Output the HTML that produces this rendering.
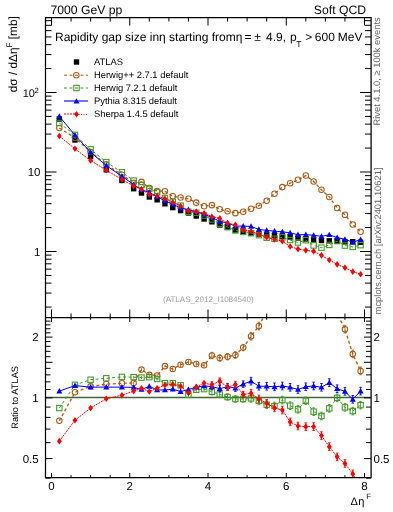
<!DOCTYPE html>
<html><head><meta charset="utf-8"><style>html,body{text-rendering:geometricPrecision;margin:0;padding:0;width:393px;height:512px;overflow:hidden;background:#fff}</style></head>
<body>
<svg width="393" height="512" viewBox="0 0 393 512" style="position:absolute;left:0;top:0;will-change:transform">
<rect width="393" height="512" fill="#fff"/>
<defs><clipPath id="cm"><rect x="45.5" y="17.5" width="325.6" height="300"/></clipPath><clipPath id="cr"><rect x="45.5" y="317.5" width="325.6" height="160"/></clipPath></defs>
<g clip-path="url(#cm)">
<polyline points="59.33,119.00 74.97,140.00 90.62,156.50 106.28,169.80 121.92,180.50 133.66,188.70 141.49,193.00 149.31,197.00 157.14,199.80 164.96,203.80 172.79,207.60 180.61,210.60 188.44,213.00 196.26,216.00 204.09,219.00 211.91,221.80 219.74,225.00 227.56,227.40 235.39,230.00 243.21,231.50 251.04,233.00 258.86,234.00 266.69,235.00 274.51,235.50 282.34,236.50 290.16,237.00 297.99,238.00 305.81,239.00 313.64,240.00 321.46,240.50 329.29,240.80 337.11,241.10 344.94,241.80 352.76,241.70 360.59,242.30" fill="none" stroke="#000" stroke-width="0"/>
<rect x="56.62" y="116.30" width="5.4" height="5.4" fill="#000"/>
<rect x="72.27" y="137.30" width="5.4" height="5.4" fill="#000"/>
<rect x="87.92" y="153.80" width="5.4" height="5.4" fill="#000"/>
<rect x="103.58" y="167.10" width="5.4" height="5.4" fill="#000"/>
<rect x="119.22" y="177.80" width="5.4" height="5.4" fill="#000"/>
<rect x="130.96" y="186.00" width="5.4" height="5.4" fill="#000"/>
<rect x="138.79" y="190.30" width="5.4" height="5.4" fill="#000"/>
<rect x="146.61" y="194.30" width="5.4" height="5.4" fill="#000"/>
<rect x="154.44" y="197.10" width="5.4" height="5.4" fill="#000"/>
<rect x="162.26" y="201.10" width="5.4" height="5.4" fill="#000"/>
<rect x="170.09" y="204.90" width="5.4" height="5.4" fill="#000"/>
<rect x="177.91" y="207.90" width="5.4" height="5.4" fill="#000"/>
<rect x="185.74" y="210.30" width="5.4" height="5.4" fill="#000"/>
<rect x="193.56" y="213.30" width="5.4" height="5.4" fill="#000"/>
<rect x="201.39" y="216.30" width="5.4" height="5.4" fill="#000"/>
<rect x="209.21" y="219.10" width="5.4" height="5.4" fill="#000"/>
<rect x="217.04" y="222.30" width="5.4" height="5.4" fill="#000"/>
<rect x="224.86" y="224.70" width="5.4" height="5.4" fill="#000"/>
<rect x="232.69" y="227.30" width="5.4" height="5.4" fill="#000"/>
<rect x="240.51" y="228.80" width="5.4" height="5.4" fill="#000"/>
<rect x="248.34" y="230.30" width="5.4" height="5.4" fill="#000"/>
<rect x="256.16" y="231.30" width="5.4" height="5.4" fill="#000"/>
<rect x="263.99" y="232.30" width="5.4" height="5.4" fill="#000"/>
<rect x="271.81" y="232.80" width="5.4" height="5.4" fill="#000"/>
<rect x="279.64" y="233.80" width="5.4" height="5.4" fill="#000"/>
<rect x="287.46" y="234.30" width="5.4" height="5.4" fill="#000"/>
<rect x="295.29" y="235.30" width="5.4" height="5.4" fill="#000"/>
<rect x="303.11" y="236.30" width="5.4" height="5.4" fill="#000"/>
<rect x="310.94" y="237.30" width="5.4" height="5.4" fill="#000"/>
<rect x="318.76" y="237.80" width="5.4" height="5.4" fill="#000"/>
<rect x="326.59" y="238.10" width="5.4" height="5.4" fill="#000"/>
<rect x="334.41" y="238.40" width="5.4" height="5.4" fill="#000"/>
<rect x="342.24" y="239.10" width="5.4" height="5.4" fill="#000"/>
<rect x="350.06" y="239.00" width="5.4" height="5.4" fill="#000"/>
<rect x="357.89" y="239.60" width="5.4" height="5.4" fill="#000"/>
<polyline points="59.33,128.02 74.97,137.83 90.62,151.98 106.28,164.38 121.92,174.79 133.66,182.84 141.49,181.88 149.31,187.94 157.14,191.01 164.96,191.31 172.79,196.23 180.61,197.58 188.44,198.84 196.26,202.63 204.09,206.17 211.91,205.14 219.74,209.29 227.56,211.17 235.39,213.13 243.21,211.69 251.04,208.72 258.86,205.70 266.69,200.70 274.51,193.70 282.34,187.10 290.16,183.20 297.99,179.80 305.81,175.50 313.64,181.50 321.46,189.80 329.29,197.00 337.11,208.00 344.94,214.73 352.76,224.41 360.59,231.68" fill="none" stroke="#a95a16" stroke-width="1.3" stroke-dasharray="3,2.5"/>
<circle cx="59.33" cy="128.02" r="2.75" fill="none" stroke="#a95a16" stroke-width="1.05"/>
<circle cx="74.97" cy="137.83" r="2.75" fill="none" stroke="#a95a16" stroke-width="1.05"/>
<circle cx="90.62" cy="151.98" r="2.75" fill="none" stroke="#a95a16" stroke-width="1.05"/>
<circle cx="106.28" cy="164.38" r="2.75" fill="none" stroke="#a95a16" stroke-width="1.05"/>
<circle cx="121.92" cy="174.79" r="2.75" fill="none" stroke="#a95a16" stroke-width="1.05"/>
<circle cx="133.66" cy="182.84" r="2.75" fill="none" stroke="#a95a16" stroke-width="1.05"/>
<circle cx="141.49" cy="181.88" r="2.75" fill="none" stroke="#a95a16" stroke-width="1.05"/>
<circle cx="149.31" cy="187.94" r="2.75" fill="none" stroke="#a95a16" stroke-width="1.05"/>
<circle cx="157.14" cy="191.01" r="2.75" fill="none" stroke="#a95a16" stroke-width="1.05"/>
<circle cx="164.96" cy="191.31" r="2.75" fill="none" stroke="#a95a16" stroke-width="1.05"/>
<circle cx="172.79" cy="196.23" r="2.75" fill="none" stroke="#a95a16" stroke-width="1.05"/>
<circle cx="180.61" cy="197.58" r="2.75" fill="none" stroke="#a95a16" stroke-width="1.05"/>
<circle cx="188.44" cy="198.84" r="2.75" fill="none" stroke="#a95a16" stroke-width="1.05"/>
<circle cx="196.26" cy="202.63" r="2.75" fill="none" stroke="#a95a16" stroke-width="1.05"/>
<circle cx="204.09" cy="206.17" r="2.75" fill="none" stroke="#a95a16" stroke-width="1.05"/>
<circle cx="211.91" cy="205.14" r="2.75" fill="none" stroke="#a95a16" stroke-width="1.05"/>
<circle cx="219.74" cy="209.29" r="2.75" fill="none" stroke="#a95a16" stroke-width="1.05"/>
<circle cx="227.56" cy="211.17" r="2.75" fill="none" stroke="#a95a16" stroke-width="1.05"/>
<circle cx="235.39" cy="213.13" r="2.75" fill="none" stroke="#a95a16" stroke-width="1.05"/>
<circle cx="243.21" cy="211.69" r="2.75" fill="none" stroke="#a95a16" stroke-width="1.05"/>
<circle cx="251.04" cy="208.72" r="2.75" fill="none" stroke="#a95a16" stroke-width="1.05"/>
<circle cx="258.86" cy="205.70" r="2.75" fill="none" stroke="#a95a16" stroke-width="1.05"/>
<circle cx="266.69" cy="200.70" r="2.75" fill="none" stroke="#a95a16" stroke-width="1.05"/>
<circle cx="274.51" cy="193.70" r="2.75" fill="none" stroke="#a95a16" stroke-width="1.05"/>
<circle cx="282.34" cy="187.10" r="2.75" fill="none" stroke="#a95a16" stroke-width="1.05"/>
<circle cx="290.16" cy="183.20" r="2.75" fill="none" stroke="#a95a16" stroke-width="1.05"/>
<circle cx="297.99" cy="179.80" r="2.75" fill="none" stroke="#a95a16" stroke-width="1.05"/>
<circle cx="305.81" cy="175.50" r="2.75" fill="none" stroke="#a95a16" stroke-width="1.05"/>
<circle cx="313.64" cy="181.50" r="2.75" fill="none" stroke="#a95a16" stroke-width="1.05"/>
<circle cx="321.46" cy="189.80" r="2.75" fill="none" stroke="#a95a16" stroke-width="1.05"/>
<circle cx="329.29" cy="197.00" r="2.75" fill="none" stroke="#a95a16" stroke-width="1.05"/>
<circle cx="337.11" cy="208.00" r="2.75" fill="none" stroke="#a95a16" stroke-width="1.05"/>
<circle cx="344.94" cy="214.73" r="2.75" fill="none" stroke="#a95a16" stroke-width="1.05"/>
<circle cx="352.76" cy="224.41" r="2.75" fill="none" stroke="#a95a16" stroke-width="1.05"/>
<circle cx="360.59" cy="231.68" r="2.75" fill="none" stroke="#a95a16" stroke-width="1.05"/>
<polyline points="59.33,123.02 74.97,134.88 90.62,149.35 106.28,162.10 121.92,172.25 133.66,180.56 141.49,185.02 149.31,188.86 157.14,192.37 164.96,198.00 172.79,201.80 180.61,205.65 188.44,211.81 196.26,212.80 204.09,215.55 211.91,219.40 219.74,223.65 227.56,227.06 235.39,230.45 243.21,231.95 251.04,233.21 258.86,235.19 266.69,237.69 274.51,238.72 282.34,237.37 290.16,240.07 297.99,242.53 305.81,240.16 313.64,245.45 321.46,247.65 329.29,244.94 337.11,241.10 344.94,245.55 352.76,246.91 360.59,245.18" fill="none" stroke="#3f9826" stroke-width="1.0" stroke-dasharray="3,2.5"/>
<rect x="56.62" y="120.32" width="5.4" height="5.4" fill="none" stroke="#3f9826" stroke-width="1.05"/>
<rect x="72.27" y="132.18" width="5.4" height="5.4" fill="none" stroke="#3f9826" stroke-width="1.05"/>
<rect x="87.92" y="146.65" width="5.4" height="5.4" fill="none" stroke="#3f9826" stroke-width="1.05"/>
<rect x="103.58" y="159.40" width="5.4" height="5.4" fill="none" stroke="#3f9826" stroke-width="1.05"/>
<rect x="119.22" y="169.55" width="5.4" height="5.4" fill="none" stroke="#3f9826" stroke-width="1.05"/>
<rect x="130.96" y="177.86" width="5.4" height="5.4" fill="none" stroke="#3f9826" stroke-width="1.05"/>
<rect x="138.79" y="182.32" width="5.4" height="5.4" fill="none" stroke="#3f9826" stroke-width="1.05"/>
<rect x="146.61" y="186.16" width="5.4" height="5.4" fill="none" stroke="#3f9826" stroke-width="1.05"/>
<rect x="154.44" y="189.67" width="5.4" height="5.4" fill="none" stroke="#3f9826" stroke-width="1.05"/>
<rect x="162.26" y="195.30" width="5.4" height="5.4" fill="none" stroke="#3f9826" stroke-width="1.05"/>
<rect x="170.09" y="199.10" width="5.4" height="5.4" fill="none" stroke="#3f9826" stroke-width="1.05"/>
<rect x="177.91" y="202.95" width="5.4" height="5.4" fill="none" stroke="#3f9826" stroke-width="1.05"/>
<rect x="185.74" y="209.11" width="5.4" height="5.4" fill="none" stroke="#3f9826" stroke-width="1.05"/>
<rect x="193.56" y="210.10" width="5.4" height="5.4" fill="none" stroke="#3f9826" stroke-width="1.05"/>
<rect x="201.39" y="212.85" width="5.4" height="5.4" fill="none" stroke="#3f9826" stroke-width="1.05"/>
<rect x="209.21" y="216.70" width="5.4" height="5.4" fill="none" stroke="#3f9826" stroke-width="1.05"/>
<rect x="217.04" y="220.95" width="5.4" height="5.4" fill="none" stroke="#3f9826" stroke-width="1.05"/>
<rect x="224.86" y="224.36" width="5.4" height="5.4" fill="none" stroke="#3f9826" stroke-width="1.05"/>
<rect x="232.69" y="227.75" width="5.4" height="5.4" fill="none" stroke="#3f9826" stroke-width="1.05"/>
<rect x="240.51" y="229.25" width="5.4" height="5.4" fill="none" stroke="#3f9826" stroke-width="1.05"/>
<rect x="248.34" y="230.51" width="5.4" height="5.4" fill="none" stroke="#3f9826" stroke-width="1.05"/>
<rect x="256.16" y="232.49" width="5.4" height="5.4" fill="none" stroke="#3f9826" stroke-width="1.05"/>
<rect x="263.99" y="234.99" width="5.4" height="5.4" fill="none" stroke="#3f9826" stroke-width="1.05"/>
<rect x="271.81" y="236.02" width="5.4" height="5.4" fill="none" stroke="#3f9826" stroke-width="1.05"/>
<rect x="279.64" y="234.67" width="5.4" height="5.4" fill="none" stroke="#3f9826" stroke-width="1.05"/>
<rect x="287.46" y="237.37" width="5.4" height="5.4" fill="none" stroke="#3f9826" stroke-width="1.05"/>
<rect x="295.29" y="239.83" width="5.4" height="5.4" fill="none" stroke="#3f9826" stroke-width="1.05"/>
<rect x="303.11" y="237.46" width="5.4" height="5.4" fill="none" stroke="#3f9826" stroke-width="1.05"/>
<rect x="310.94" y="242.75" width="5.4" height="5.4" fill="none" stroke="#3f9826" stroke-width="1.05"/>
<rect x="318.76" y="244.95" width="5.4" height="5.4" fill="none" stroke="#3f9826" stroke-width="1.05"/>
<rect x="326.59" y="242.24" width="5.4" height="5.4" fill="none" stroke="#3f9826" stroke-width="1.05"/>
<rect x="334.41" y="238.40" width="5.4" height="5.4" fill="none" stroke="#3f9826" stroke-width="1.05"/>
<rect x="342.24" y="242.85" width="5.4" height="5.4" fill="none" stroke="#3f9826" stroke-width="1.05"/>
<rect x="350.06" y="244.21" width="5.4" height="5.4" fill="none" stroke="#3f9826" stroke-width="1.05"/>
<rect x="357.89" y="242.48" width="5.4" height="5.4" fill="none" stroke="#3f9826" stroke-width="1.05"/>
<polyline points="59.33,116.34 74.97,135.17 90.62,152.28 106.28,165.58 121.92,176.28 133.66,184.57 141.49,189.71 149.31,192.48 157.14,196.67 164.96,200.73 172.79,204.15 180.61,208.14 188.44,209.71 196.26,211.81 204.09,214.29 211.91,217.37 219.74,221.40 227.56,222.97 235.39,226.18 243.21,226.08 251.04,226.42 258.86,229.42 266.69,230.42 274.51,231.16 282.34,231.82 290.16,232.84 297.99,234.71 305.81,234.63 313.64,235.32 321.46,236.34 329.29,234.79 337.11,237.50 344.94,239.24 352.76,242.29 360.59,239.64" fill="none" stroke="#0000ff" stroke-width="1.0"/>
<path d="M59.33 113.24L62.33 118.64L56.33 118.64Z" fill="#0000ff"/>
<path d="M74.97 132.07L77.97 137.47L71.97 137.47Z" fill="#0000ff"/>
<path d="M90.62 149.18L93.62 154.58L87.62 154.58Z" fill="#0000ff"/>
<path d="M106.28 162.48L109.28 167.88L103.28 167.88Z" fill="#0000ff"/>
<path d="M121.92 173.18L124.92 178.58L118.92 178.58Z" fill="#0000ff"/>
<path d="M133.66 181.47L136.66 186.87L130.66 186.87Z" fill="#0000ff"/>
<path d="M141.49 186.61L144.49 192.01L138.49 192.01Z" fill="#0000ff"/>
<path d="M149.31 189.38L152.31 194.78L146.31 194.78Z" fill="#0000ff"/>
<path d="M157.14 193.57L160.14 198.97L154.14 198.97Z" fill="#0000ff"/>
<path d="M164.96 197.63L167.96 203.03L161.96 203.03Z" fill="#0000ff"/>
<path d="M172.79 201.05L175.79 206.45L169.79 206.45Z" fill="#0000ff"/>
<path d="M180.61 205.04L183.61 210.44L177.61 210.44Z" fill="#0000ff"/>
<path d="M188.44 206.61L191.44 212.01L185.44 212.01Z" fill="#0000ff"/>
<path d="M196.26 208.71L199.26 214.11L193.26 214.11Z" fill="#0000ff"/>
<path d="M204.09 211.19L207.09 216.59L201.09 216.59Z" fill="#0000ff"/>
<path d="M211.91 214.27L214.91 219.67L208.91 219.67Z" fill="#0000ff"/>
<path d="M219.74 218.30L222.74 223.70L216.74 223.70Z" fill="#0000ff"/>
<path d="M227.56 219.87L230.56 225.27L224.56 225.27Z" fill="#0000ff"/>
<path d="M235.39 223.08L238.39 228.48L232.39 228.48Z" fill="#0000ff"/>
<path d="M243.21 222.98L246.21 228.38L240.21 228.38Z" fill="#0000ff"/>
<path d="M251.04 223.32L254.04 228.72L248.04 228.72Z" fill="#0000ff"/>
<path d="M258.86 226.32L261.86 231.72L255.86 231.72Z" fill="#0000ff"/>
<path d="M266.69 227.32L269.69 232.72L263.69 232.72Z" fill="#0000ff"/>
<path d="M274.51 228.06L277.51 233.46L271.51 233.46Z" fill="#0000ff"/>
<path d="M282.34 228.72L285.34 234.12L279.34 234.12Z" fill="#0000ff"/>
<path d="M290.16 229.74L293.16 235.14L287.16 235.14Z" fill="#0000ff"/>
<path d="M297.99 231.61L300.99 237.01L294.99 237.01Z" fill="#0000ff"/>
<path d="M305.81 231.53L308.81 236.93L302.81 236.93Z" fill="#0000ff"/>
<path d="M313.64 232.22L316.64 237.62L310.64 237.62Z" fill="#0000ff"/>
<path d="M321.46 233.24L324.46 238.64L318.46 238.64Z" fill="#0000ff"/>
<path d="M329.29 231.69L332.29 237.09L326.29 237.09Z" fill="#0000ff"/>
<path d="M337.11 234.40L340.11 239.80L334.11 239.80Z" fill="#0000ff"/>
<path d="M344.94 236.14L347.94 241.54L341.94 241.54Z" fill="#0000ff"/>
<path d="M352.76 239.19L355.76 244.59L349.76 244.59Z" fill="#0000ff"/>
<path d="M360.59 236.54L363.59 241.94L357.59 241.94Z" fill="#0000ff"/>
<polyline points="59.33,136.07 74.97,148.80 90.62,160.52 106.28,170.15 121.92,179.48 133.66,186.04 141.49,189.24 149.31,194.47 157.14,196.04 164.96,198.71 172.79,202.30 180.61,206.02 188.44,211.05 196.26,211.69 204.09,213.20 211.91,216.68 219.74,218.42 227.56,223.27 235.39,224.73 243.21,230.21 251.04,231.18 258.86,234.45 266.69,237.17 274.51,239.45 282.34,241.31 290.16,246.48 297.99,249.10 305.81,250.34 313.64,251.34 321.46,255.37 329.29,260.03 337.11,264.35 344.94,267.65 352.76,271.65 360.59,274.28" fill="none" stroke="#ff0000" stroke-width="1.0" stroke-dasharray="2,0.9"/>
<path d="M59.33 132.77L61.73 136.07L59.33 139.37L56.93 136.07Z" fill="#ff0000"/>
<path d="M74.97 145.50L77.38 148.80L74.97 152.10L72.57 148.80Z" fill="#ff0000"/>
<path d="M90.62 157.22L93.03 160.52L90.62 163.82L88.22 160.52Z" fill="#ff0000"/>
<path d="M106.28 166.85L108.68 170.15L106.28 173.45L103.88 170.15Z" fill="#ff0000"/>
<path d="M121.92 176.18L124.33 179.48L121.92 182.78L119.52 179.48Z" fill="#ff0000"/>
<path d="M133.66 182.74L136.06 186.04L133.66 189.34L131.26 186.04Z" fill="#ff0000"/>
<path d="M141.49 185.94L143.89 189.24L141.49 192.54L139.09 189.24Z" fill="#ff0000"/>
<path d="M149.31 191.17L151.71 194.47L149.31 197.77L146.91 194.47Z" fill="#ff0000"/>
<path d="M157.14 192.74L159.54 196.04L157.14 199.34L154.74 196.04Z" fill="#ff0000"/>
<path d="M164.96 195.41L167.36 198.71L164.96 202.01L162.56 198.71Z" fill="#ff0000"/>
<path d="M172.79 199.00L175.19 202.30L172.79 205.60L170.39 202.30Z" fill="#ff0000"/>
<path d="M180.61 202.72L183.01 206.02L180.61 209.32L178.21 206.02Z" fill="#ff0000"/>
<path d="M188.44 207.75L190.84 211.05L188.44 214.35L186.04 211.05Z" fill="#ff0000"/>
<path d="M196.26 208.39L198.66 211.69L196.26 214.99L193.86 211.69Z" fill="#ff0000"/>
<path d="M204.09 209.90L206.49 213.20L204.09 216.50L201.69 213.20Z" fill="#ff0000"/>
<path d="M211.91 213.38L214.31 216.68L211.91 219.98L209.51 216.68Z" fill="#ff0000"/>
<path d="M219.74 215.12L222.14 218.42L219.74 221.72L217.34 218.42Z" fill="#ff0000"/>
<path d="M227.56 219.97L229.96 223.27L227.56 226.57L225.16 223.27Z" fill="#ff0000"/>
<path d="M235.39 221.43L237.79 224.73L235.39 228.03L232.99 224.73Z" fill="#ff0000"/>
<path d="M243.21 226.91L245.61 230.21L243.21 233.51L240.81 230.21Z" fill="#ff0000"/>
<path d="M251.04 227.88L253.44 231.18L251.04 234.48L248.64 231.18Z" fill="#ff0000"/>
<path d="M258.86 231.15L261.26 234.45L258.86 237.75L256.46 234.45Z" fill="#ff0000"/>
<path d="M266.69 233.87L269.09 237.17L266.69 240.47L264.29 237.17Z" fill="#ff0000"/>
<path d="M274.51 236.15L276.91 239.45L274.51 242.75L272.11 239.45Z" fill="#ff0000"/>
<path d="M282.34 238.01L284.74 241.31L282.34 244.61L279.94 241.31Z" fill="#ff0000"/>
<path d="M290.16 243.18L292.56 246.48L290.16 249.78L287.76 246.48Z" fill="#ff0000"/>
<path d="M297.99 245.80L300.39 249.10L297.99 252.40L295.59 249.10Z" fill="#ff0000"/>
<path d="M305.81 247.04L308.21 250.34L305.81 253.64L303.41 250.34Z" fill="#ff0000"/>
<path d="M313.64 248.04L316.04 251.34L313.64 254.64L311.24 251.34Z" fill="#ff0000"/>
<path d="M321.46 252.07L323.86 255.37L321.46 258.67L319.06 255.37Z" fill="#ff0000"/>
<path d="M329.29 256.73L331.69 260.03L329.29 263.33L326.89 260.03Z" fill="#ff0000"/>
<path d="M337.11 261.05L339.51 264.35L337.11 267.65L334.71 264.35Z" fill="#ff0000"/>
<path d="M344.94 264.35L347.34 267.65L344.94 270.95L342.54 267.65Z" fill="#ff0000"/>
<path d="M352.76 268.35L355.16 271.65L352.76 274.95L350.36 271.65Z" fill="#ff0000"/>
<path d="M360.59 270.98L362.99 274.28L360.59 277.58L358.19 274.28Z" fill="#ff0000"/>
</g>
<g clip-path="url(#cr)">
<path d="M45.5 397.5H371" stroke="#42643a" stroke-width="1.3"/>
<polyline points="59.33,420.76 74.97,392.33 90.62,386.37 106.28,384.09 121.92,383.34 133.66,382.97 141.49,369.62 149.31,374.86 157.14,375.53 164.96,366.14 172.79,368.99 180.61,364.80 188.44,361.91 196.26,363.91 204.09,365.29 211.91,355.57 219.74,357.98 227.56,356.66 235.39,355.03 243.21,347.56 251.04,336.23 258.86,326.00 266.69,310.78 274.51,291.75 282.34,272.45 290.16,261.29 297.99,250.12 305.81,236.66 313.64,249.36 321.46,269.15 329.29,286.67 337.11,313.83 344.94,329.15 352.76,353.96 360.59,370.90" fill="none" stroke="#a95a16" stroke-width="1.3" stroke-dasharray="3,2.5"/>
<path d="M133.66 381.57V384.37" stroke="#a95a16" stroke-width="0.9" fill="none"/>
<path d="M141.49 368.22V371.02" stroke="#a95a16" stroke-width="0.9" fill="none"/>
<path d="M149.31 373.46V376.26" stroke="#a95a16" stroke-width="0.9" fill="none"/>
<path d="M157.14 374.13V376.93" stroke="#a95a16" stroke-width="0.9" fill="none"/>
<path d="M164.96 364.74V367.54" stroke="#a95a16" stroke-width="0.9" fill="none"/>
<path d="M172.79 366.79V371.19" stroke="#a95a16" stroke-width="0.9" fill="none"/>
<path d="M180.61 362.60V367.00" stroke="#a95a16" stroke-width="0.9" fill="none"/>
<path d="M188.44 359.71V364.11" stroke="#a95a16" stroke-width="0.9" fill="none"/>
<path d="M196.26 361.71V366.11" stroke="#a95a16" stroke-width="0.9" fill="none"/>
<path d="M204.09 363.09V367.49" stroke="#a95a16" stroke-width="0.9" fill="none"/>
<path d="M211.91 352.37V358.77M210.61 352.37H213.21M210.61 358.77H213.21" stroke="#a95a16" stroke-width="0.9" fill="none"/>
<path d="M219.74 354.78V361.18M218.44 354.78H221.04M218.44 361.18H221.04" stroke="#a95a16" stroke-width="0.9" fill="none"/>
<path d="M227.56 353.46V359.86M226.26 353.46H228.86M226.26 359.86H228.86" stroke="#a95a16" stroke-width="0.9" fill="none"/>
<path d="M235.39 351.83V358.23M234.09 351.83H236.69M234.09 358.23H236.69" stroke="#a95a16" stroke-width="0.9" fill="none"/>
<path d="M243.21 344.36V350.76M241.91 344.36H244.51M241.91 350.76H244.51" stroke="#a95a16" stroke-width="0.9" fill="none"/>
<path d="M251.04 332.43V340.03M249.74 332.43H252.34M249.74 340.03H252.34" stroke="#a95a16" stroke-width="0.9" fill="none"/>
<path d="M258.86 322.20V329.80M257.56 322.20H260.16M257.56 329.80H260.16" stroke="#a95a16" stroke-width="0.9" fill="none"/>
<path d="M266.69 306.98V314.58M265.39 306.98H267.99M265.39 314.58H267.99" stroke="#a95a16" stroke-width="0.9" fill="none"/>
<path d="M274.51 287.95V295.55M273.21 287.95H275.81M273.21 295.55H275.81" stroke="#a95a16" stroke-width="0.9" fill="none"/>
<path d="M282.34 268.65V276.25M281.04 268.65H283.64M281.04 276.25H283.64" stroke="#a95a16" stroke-width="0.9" fill="none"/>
<path d="M290.16 257.49V265.09M288.86 257.49H291.46M288.86 265.09H291.46" stroke="#a95a16" stroke-width="0.9" fill="none"/>
<path d="M297.99 246.32V253.92M296.69 246.32H299.29M296.69 253.92H299.29" stroke="#a95a16" stroke-width="0.9" fill="none"/>
<path d="M305.81 232.86V240.46M304.51 232.86H307.11M304.51 240.46H307.11" stroke="#a95a16" stroke-width="0.9" fill="none"/>
<path d="M313.64 245.56V253.16M312.34 245.56H314.94M312.34 253.16H314.94" stroke="#a95a16" stroke-width="0.9" fill="none"/>
<path d="M321.46 265.35V272.95M320.16 265.35H322.76M320.16 272.95H322.76" stroke="#a95a16" stroke-width="0.9" fill="none"/>
<path d="M329.29 282.87V290.47M327.99 282.87H330.59M327.99 290.47H330.59" stroke="#a95a16" stroke-width="0.9" fill="none"/>
<path d="M337.11 310.03V317.63M335.81 310.03H338.41M335.81 317.63H338.41" stroke="#a95a16" stroke-width="0.9" fill="none"/>
<path d="M344.94 325.35V332.95M343.64 325.35H346.24M343.64 332.95H346.24" stroke="#a95a16" stroke-width="0.9" fill="none"/>
<path d="M352.76 350.16V357.76M351.46 350.16H354.06M351.46 357.76H354.06" stroke="#a95a16" stroke-width="0.9" fill="none"/>
<path d="M360.59 367.10V374.70M359.29 367.10H361.89M359.29 374.70H361.89" stroke="#a95a16" stroke-width="0.9" fill="none"/>
<circle cx="59.33" cy="420.76" r="2.75" fill="none" stroke="#a95a16" stroke-width="1.05"/>
<circle cx="74.97" cy="392.33" r="2.75" fill="none" stroke="#a95a16" stroke-width="1.05"/>
<circle cx="90.62" cy="386.37" r="2.75" fill="none" stroke="#a95a16" stroke-width="1.05"/>
<circle cx="106.28" cy="384.09" r="2.75" fill="none" stroke="#a95a16" stroke-width="1.05"/>
<circle cx="121.92" cy="383.34" r="2.75" fill="none" stroke="#a95a16" stroke-width="1.05"/>
<circle cx="133.66" cy="382.97" r="2.75" fill="none" stroke="#a95a16" stroke-width="1.05"/>
<circle cx="141.49" cy="369.62" r="2.75" fill="none" stroke="#a95a16" stroke-width="1.05"/>
<circle cx="149.31" cy="374.86" r="2.75" fill="none" stroke="#a95a16" stroke-width="1.05"/>
<circle cx="157.14" cy="375.53" r="2.75" fill="none" stroke="#a95a16" stroke-width="1.05"/>
<circle cx="164.96" cy="366.14" r="2.75" fill="none" stroke="#a95a16" stroke-width="1.05"/>
<circle cx="172.79" cy="368.99" r="2.75" fill="none" stroke="#a95a16" stroke-width="1.05"/>
<circle cx="180.61" cy="364.80" r="2.75" fill="none" stroke="#a95a16" stroke-width="1.05"/>
<circle cx="188.44" cy="361.91" r="2.75" fill="none" stroke="#a95a16" stroke-width="1.05"/>
<circle cx="196.26" cy="363.91" r="2.75" fill="none" stroke="#a95a16" stroke-width="1.05"/>
<circle cx="204.09" cy="365.29" r="2.75" fill="none" stroke="#a95a16" stroke-width="1.05"/>
<circle cx="211.91" cy="355.57" r="2.75" fill="none" stroke="#a95a16" stroke-width="1.05"/>
<circle cx="219.74" cy="357.98" r="2.75" fill="none" stroke="#a95a16" stroke-width="1.05"/>
<circle cx="227.56" cy="356.66" r="2.75" fill="none" stroke="#a95a16" stroke-width="1.05"/>
<circle cx="235.39" cy="355.03" r="2.75" fill="none" stroke="#a95a16" stroke-width="1.05"/>
<circle cx="243.21" cy="347.56" r="2.75" fill="none" stroke="#a95a16" stroke-width="1.05"/>
<circle cx="251.04" cy="336.23" r="2.75" fill="none" stroke="#a95a16" stroke-width="1.05"/>
<circle cx="258.86" cy="326.00" r="2.75" fill="none" stroke="#a95a16" stroke-width="1.05"/>
<circle cx="266.69" cy="310.78" r="2.75" fill="none" stroke="#a95a16" stroke-width="1.05"/>
<circle cx="274.51" cy="291.75" r="2.75" fill="none" stroke="#a95a16" stroke-width="1.05"/>
<circle cx="282.34" cy="272.45" r="2.75" fill="none" stroke="#a95a16" stroke-width="1.05"/>
<circle cx="290.16" cy="261.29" r="2.75" fill="none" stroke="#a95a16" stroke-width="1.05"/>
<circle cx="297.99" cy="250.12" r="2.75" fill="none" stroke="#a95a16" stroke-width="1.05"/>
<circle cx="305.81" cy="236.66" r="2.75" fill="none" stroke="#a95a16" stroke-width="1.05"/>
<circle cx="313.64" cy="249.36" r="2.75" fill="none" stroke="#a95a16" stroke-width="1.05"/>
<circle cx="321.46" cy="269.15" r="2.75" fill="none" stroke="#a95a16" stroke-width="1.05"/>
<circle cx="329.29" cy="286.67" r="2.75" fill="none" stroke="#a95a16" stroke-width="1.05"/>
<circle cx="337.11" cy="313.83" r="2.75" fill="none" stroke="#a95a16" stroke-width="1.05"/>
<circle cx="344.94" cy="329.15" r="2.75" fill="none" stroke="#a95a16" stroke-width="1.05"/>
<circle cx="352.76" cy="353.96" r="2.75" fill="none" stroke="#a95a16" stroke-width="1.05"/>
<circle cx="360.59" cy="370.90" r="2.75" fill="none" stroke="#a95a16" stroke-width="1.05"/>
<polyline points="59.33,408.06 74.97,384.84 90.62,379.71 106.28,378.29 121.92,376.90 133.66,377.18 141.49,377.60 149.31,377.18 157.14,379.00 164.96,383.12 172.79,383.12 180.61,385.30 188.44,394.84 196.26,389.74 204.09,389.10 211.91,391.76 219.74,394.41 227.56,396.98 235.39,399.00 243.21,399.00 251.04,398.38 258.86,400.88 266.69,404.68 274.51,406.02 282.34,400.07 290.16,405.64 297.99,409.35 305.81,400.79 313.64,411.68 321.46,415.99 329.29,408.36 337.11,397.85 344.94,407.38 352.76,411.07 360.59,405.16" fill="none" stroke="#3f9826" stroke-width="1.0" stroke-dasharray="3,2.5"/>
<path d="M133.66 375.78V378.58" stroke="#3f9826" stroke-width="0.9" fill="none"/>
<path d="M141.49 376.20V379.00" stroke="#3f9826" stroke-width="0.9" fill="none"/>
<path d="M149.31 375.78V378.58" stroke="#3f9826" stroke-width="0.9" fill="none"/>
<path d="M157.14 377.60V380.40" stroke="#3f9826" stroke-width="0.9" fill="none"/>
<path d="M164.96 381.72V384.52" stroke="#3f9826" stroke-width="0.9" fill="none"/>
<path d="M172.79 380.92V385.32" stroke="#3f9826" stroke-width="0.9" fill="none"/>
<path d="M180.61 383.10V387.50" stroke="#3f9826" stroke-width="0.9" fill="none"/>
<path d="M188.44 392.64V397.04" stroke="#3f9826" stroke-width="0.9" fill="none"/>
<path d="M196.26 387.54V391.94" stroke="#3f9826" stroke-width="0.9" fill="none"/>
<path d="M204.09 386.90V391.30" stroke="#3f9826" stroke-width="0.9" fill="none"/>
<path d="M211.91 388.56V394.96M210.61 388.56H213.21M210.61 394.96H213.21" stroke="#3f9826" stroke-width="0.9" fill="none"/>
<path d="M219.74 391.21V397.61M218.44 391.21H221.04M218.44 397.61H221.04" stroke="#3f9826" stroke-width="0.9" fill="none"/>
<path d="M227.56 393.78V400.18M226.26 393.78H228.86M226.26 400.18H228.86" stroke="#3f9826" stroke-width="0.9" fill="none"/>
<path d="M235.39 395.80V402.20M234.09 395.80H236.69M234.09 402.20H236.69" stroke="#3f9826" stroke-width="0.9" fill="none"/>
<path d="M243.21 395.80V402.20M241.91 395.80H244.51M241.91 402.20H244.51" stroke="#3f9826" stroke-width="0.9" fill="none"/>
<path d="M251.04 394.58V402.18M249.74 394.58H252.34M249.74 402.18H252.34" stroke="#3f9826" stroke-width="0.9" fill="none"/>
<path d="M258.86 397.08V404.68M257.56 397.08H260.16M257.56 404.68H260.16" stroke="#3f9826" stroke-width="0.9" fill="none"/>
<path d="M266.69 400.88V408.48M265.39 400.88H267.99M265.39 408.48H267.99" stroke="#3f9826" stroke-width="0.9" fill="none"/>
<path d="M274.51 402.22V409.82M273.21 402.22H275.81M273.21 409.82H275.81" stroke="#3f9826" stroke-width="0.9" fill="none"/>
<path d="M282.34 396.27V403.87M281.04 396.27H283.64M281.04 403.87H283.64" stroke="#3f9826" stroke-width="0.9" fill="none"/>
<path d="M290.16 401.84V409.44M288.86 401.84H291.46M288.86 409.44H291.46" stroke="#3f9826" stroke-width="0.9" fill="none"/>
<path d="M297.99 405.55V413.15M296.69 405.55H299.29M296.69 413.15H299.29" stroke="#3f9826" stroke-width="0.9" fill="none"/>
<path d="M305.81 396.99V404.59M304.51 396.99H307.11M304.51 404.59H307.11" stroke="#3f9826" stroke-width="0.9" fill="none"/>
<path d="M313.64 407.88V415.48M312.34 407.88H314.94M312.34 415.48H314.94" stroke="#3f9826" stroke-width="0.9" fill="none"/>
<path d="M321.46 412.19V419.79M320.16 412.19H322.76M320.16 419.79H322.76" stroke="#3f9826" stroke-width="0.9" fill="none"/>
<path d="M329.29 404.56V412.16M327.99 404.56H330.59M327.99 412.16H330.59" stroke="#3f9826" stroke-width="0.9" fill="none"/>
<path d="M337.11 394.05V401.65M335.81 394.05H338.41M335.81 401.65H338.41" stroke="#3f9826" stroke-width="0.9" fill="none"/>
<path d="M344.94 403.58V411.18M343.64 403.58H346.24M343.64 411.18H346.24" stroke="#3f9826" stroke-width="0.9" fill="none"/>
<path d="M352.76 407.27V414.87M351.46 407.27H354.06M351.46 414.87H354.06" stroke="#3f9826" stroke-width="0.9" fill="none"/>
<path d="M360.59 401.36V408.96M359.29 401.36H361.89M359.29 408.96H361.89" stroke="#3f9826" stroke-width="0.9" fill="none"/>
<rect x="56.62" y="405.36" width="5.4" height="5.4" fill="none" stroke="#3f9826" stroke-width="1.05"/>
<rect x="72.27" y="382.14" width="5.4" height="5.4" fill="none" stroke="#3f9826" stroke-width="1.05"/>
<rect x="87.92" y="377.01" width="5.4" height="5.4" fill="none" stroke="#3f9826" stroke-width="1.05"/>
<rect x="103.58" y="375.59" width="5.4" height="5.4" fill="none" stroke="#3f9826" stroke-width="1.05"/>
<rect x="119.22" y="374.20" width="5.4" height="5.4" fill="none" stroke="#3f9826" stroke-width="1.05"/>
<rect x="130.96" y="374.48" width="5.4" height="5.4" fill="none" stroke="#3f9826" stroke-width="1.05"/>
<rect x="138.79" y="374.90" width="5.4" height="5.4" fill="none" stroke="#3f9826" stroke-width="1.05"/>
<rect x="146.61" y="374.48" width="5.4" height="5.4" fill="none" stroke="#3f9826" stroke-width="1.05"/>
<rect x="154.44" y="376.30" width="5.4" height="5.4" fill="none" stroke="#3f9826" stroke-width="1.05"/>
<rect x="162.26" y="380.42" width="5.4" height="5.4" fill="none" stroke="#3f9826" stroke-width="1.05"/>
<rect x="170.09" y="380.42" width="5.4" height="5.4" fill="none" stroke="#3f9826" stroke-width="1.05"/>
<rect x="177.91" y="382.60" width="5.4" height="5.4" fill="none" stroke="#3f9826" stroke-width="1.05"/>
<rect x="185.74" y="392.14" width="5.4" height="5.4" fill="none" stroke="#3f9826" stroke-width="1.05"/>
<rect x="193.56" y="387.04" width="5.4" height="5.4" fill="none" stroke="#3f9826" stroke-width="1.05"/>
<rect x="201.39" y="386.40" width="5.4" height="5.4" fill="none" stroke="#3f9826" stroke-width="1.05"/>
<rect x="209.21" y="389.06" width="5.4" height="5.4" fill="none" stroke="#3f9826" stroke-width="1.05"/>
<rect x="217.04" y="391.71" width="5.4" height="5.4" fill="none" stroke="#3f9826" stroke-width="1.05"/>
<rect x="224.86" y="394.28" width="5.4" height="5.4" fill="none" stroke="#3f9826" stroke-width="1.05"/>
<rect x="232.69" y="396.30" width="5.4" height="5.4" fill="none" stroke="#3f9826" stroke-width="1.05"/>
<rect x="240.51" y="396.30" width="5.4" height="5.4" fill="none" stroke="#3f9826" stroke-width="1.05"/>
<rect x="248.34" y="395.68" width="5.4" height="5.4" fill="none" stroke="#3f9826" stroke-width="1.05"/>
<rect x="256.16" y="398.18" width="5.4" height="5.4" fill="none" stroke="#3f9826" stroke-width="1.05"/>
<rect x="263.99" y="401.98" width="5.4" height="5.4" fill="none" stroke="#3f9826" stroke-width="1.05"/>
<rect x="271.81" y="403.32" width="5.4" height="5.4" fill="none" stroke="#3f9826" stroke-width="1.05"/>
<rect x="279.64" y="397.37" width="5.4" height="5.4" fill="none" stroke="#3f9826" stroke-width="1.05"/>
<rect x="287.46" y="402.94" width="5.4" height="5.4" fill="none" stroke="#3f9826" stroke-width="1.05"/>
<rect x="295.29" y="406.65" width="5.4" height="5.4" fill="none" stroke="#3f9826" stroke-width="1.05"/>
<rect x="303.11" y="398.09" width="5.4" height="5.4" fill="none" stroke="#3f9826" stroke-width="1.05"/>
<rect x="310.94" y="408.98" width="5.4" height="5.4" fill="none" stroke="#3f9826" stroke-width="1.05"/>
<rect x="318.76" y="413.29" width="5.4" height="5.4" fill="none" stroke="#3f9826" stroke-width="1.05"/>
<rect x="326.59" y="405.66" width="5.4" height="5.4" fill="none" stroke="#3f9826" stroke-width="1.05"/>
<rect x="334.41" y="395.15" width="5.4" height="5.4" fill="none" stroke="#3f9826" stroke-width="1.05"/>
<rect x="342.24" y="404.68" width="5.4" height="5.4" fill="none" stroke="#3f9826" stroke-width="1.05"/>
<rect x="350.06" y="408.37" width="5.4" height="5.4" fill="none" stroke="#3f9826" stroke-width="1.05"/>
<rect x="357.89" y="402.46" width="5.4" height="5.4" fill="none" stroke="#3f9826" stroke-width="1.05"/>
<polyline points="59.33,391.11 74.97,385.60 90.62,387.14 106.28,387.14 121.92,387.14 133.66,387.37 141.49,389.50 149.31,386.37 157.14,389.90 164.96,390.06 172.79,389.10 180.61,391.59 188.44,389.50 196.26,387.22 204.09,385.91 211.91,386.60 219.74,388.70 227.56,386.60 235.39,388.15 243.21,384.09 251.04,381.14 258.86,386.21 266.69,386.21 274.51,386.83 282.34,385.98 290.16,387.29 297.99,389.50 305.81,386.75 313.64,385.98 321.46,387.29 329.29,382.60 337.11,388.70 344.94,391.35 352.76,399.35 360.59,391.11" fill="none" stroke="#0000ff" stroke-width="1.0"/>
<path d="M133.66 385.97V388.77" stroke="#0000ff" stroke-width="0.9" fill="none"/>
<path d="M141.49 388.10V390.90" stroke="#0000ff" stroke-width="0.9" fill="none"/>
<path d="M149.31 384.97V387.77" stroke="#0000ff" stroke-width="0.9" fill="none"/>
<path d="M157.14 388.50V391.30" stroke="#0000ff" stroke-width="0.9" fill="none"/>
<path d="M164.96 388.66V391.46" stroke="#0000ff" stroke-width="0.9" fill="none"/>
<path d="M172.79 386.90V391.30" stroke="#0000ff" stroke-width="0.9" fill="none"/>
<path d="M180.61 389.39V393.79" stroke="#0000ff" stroke-width="0.9" fill="none"/>
<path d="M188.44 387.30V391.70" stroke="#0000ff" stroke-width="0.9" fill="none"/>
<path d="M196.26 385.02V389.42" stroke="#0000ff" stroke-width="0.9" fill="none"/>
<path d="M204.09 383.71V388.11" stroke="#0000ff" stroke-width="0.9" fill="none"/>
<path d="M211.91 383.40V389.80M210.61 383.40H213.21M210.61 389.80H213.21" stroke="#0000ff" stroke-width="0.9" fill="none"/>
<path d="M219.74 385.50V391.90M218.44 385.50H221.04M218.44 391.90H221.04" stroke="#0000ff" stroke-width="0.9" fill="none"/>
<path d="M227.56 383.40V389.80M226.26 383.40H228.86M226.26 389.80H228.86" stroke="#0000ff" stroke-width="0.9" fill="none"/>
<path d="M235.39 384.95V391.35M234.09 384.95H236.69M234.09 391.35H236.69" stroke="#0000ff" stroke-width="0.9" fill="none"/>
<path d="M243.21 380.89V387.29M241.91 380.89H244.51M241.91 387.29H244.51" stroke="#0000ff" stroke-width="0.9" fill="none"/>
<path d="M251.04 377.34V384.94M249.74 377.34H252.34M249.74 384.94H252.34" stroke="#0000ff" stroke-width="0.9" fill="none"/>
<path d="M258.86 382.41V390.01M257.56 382.41H260.16M257.56 390.01H260.16" stroke="#0000ff" stroke-width="0.9" fill="none"/>
<path d="M266.69 382.41V390.01M265.39 382.41H267.99M265.39 390.01H267.99" stroke="#0000ff" stroke-width="0.9" fill="none"/>
<path d="M274.51 383.03V390.63M273.21 383.03H275.81M273.21 390.63H275.81" stroke="#0000ff" stroke-width="0.9" fill="none"/>
<path d="M282.34 382.18V389.78M281.04 382.18H283.64M281.04 389.78H283.64" stroke="#0000ff" stroke-width="0.9" fill="none"/>
<path d="M290.16 383.49V391.09M288.86 383.49H291.46M288.86 391.09H291.46" stroke="#0000ff" stroke-width="0.9" fill="none"/>
<path d="M297.99 385.70V393.30M296.69 385.70H299.29M296.69 393.30H299.29" stroke="#0000ff" stroke-width="0.9" fill="none"/>
<path d="M305.81 382.95V390.55M304.51 382.95H307.11M304.51 390.55H307.11" stroke="#0000ff" stroke-width="0.9" fill="none"/>
<path d="M313.64 382.18V389.78M312.34 382.18H314.94M312.34 389.78H314.94" stroke="#0000ff" stroke-width="0.9" fill="none"/>
<path d="M321.46 383.49V391.09M320.16 383.49H322.76M320.16 391.09H322.76" stroke="#0000ff" stroke-width="0.9" fill="none"/>
<path d="M329.29 378.80V386.40M327.99 378.80H330.59M327.99 386.40H330.59" stroke="#0000ff" stroke-width="0.9" fill="none"/>
<path d="M337.11 384.90V392.50M335.81 384.90H338.41M335.81 392.50H338.41" stroke="#0000ff" stroke-width="0.9" fill="none"/>
<path d="M344.94 387.55V395.15M343.64 387.55H346.24M343.64 395.15H346.24" stroke="#0000ff" stroke-width="0.9" fill="none"/>
<path d="M352.76 395.55V403.15M351.46 395.55H354.06M351.46 403.15H354.06" stroke="#0000ff" stroke-width="0.9" fill="none"/>
<path d="M360.59 387.31V394.91M359.29 387.31H361.89M359.29 394.91H361.89" stroke="#0000ff" stroke-width="0.9" fill="none"/>
<path d="M59.33 388.01L62.33 393.41L56.33 393.41Z" fill="#0000ff"/>
<path d="M74.97 382.50L77.97 387.90L71.97 387.90Z" fill="#0000ff"/>
<path d="M90.62 384.04L93.62 389.44L87.62 389.44Z" fill="#0000ff"/>
<path d="M106.28 384.04L109.28 389.44L103.28 389.44Z" fill="#0000ff"/>
<path d="M121.92 384.04L124.92 389.44L118.92 389.44Z" fill="#0000ff"/>
<path d="M133.66 384.27L136.66 389.67L130.66 389.67Z" fill="#0000ff"/>
<path d="M141.49 386.40L144.49 391.80L138.49 391.80Z" fill="#0000ff"/>
<path d="M149.31 383.27L152.31 388.67L146.31 388.67Z" fill="#0000ff"/>
<path d="M157.14 386.80L160.14 392.20L154.14 392.20Z" fill="#0000ff"/>
<path d="M164.96 386.96L167.96 392.36L161.96 392.36Z" fill="#0000ff"/>
<path d="M172.79 386.00L175.79 391.40L169.79 391.40Z" fill="#0000ff"/>
<path d="M180.61 388.49L183.61 393.89L177.61 393.89Z" fill="#0000ff"/>
<path d="M188.44 386.40L191.44 391.80L185.44 391.80Z" fill="#0000ff"/>
<path d="M196.26 384.12L199.26 389.52L193.26 389.52Z" fill="#0000ff"/>
<path d="M204.09 382.81L207.09 388.21L201.09 388.21Z" fill="#0000ff"/>
<path d="M211.91 383.50L214.91 388.90L208.91 388.90Z" fill="#0000ff"/>
<path d="M219.74 385.60L222.74 391.00L216.74 391.00Z" fill="#0000ff"/>
<path d="M227.56 383.50L230.56 388.90L224.56 388.90Z" fill="#0000ff"/>
<path d="M235.39 385.05L238.39 390.45L232.39 390.45Z" fill="#0000ff"/>
<path d="M243.21 380.99L246.21 386.39L240.21 386.39Z" fill="#0000ff"/>
<path d="M251.04 378.04L254.04 383.44L248.04 383.44Z" fill="#0000ff"/>
<path d="M258.86 383.11L261.86 388.51L255.86 388.51Z" fill="#0000ff"/>
<path d="M266.69 383.11L269.69 388.51L263.69 388.51Z" fill="#0000ff"/>
<path d="M274.51 383.73L277.51 389.13L271.51 389.13Z" fill="#0000ff"/>
<path d="M282.34 382.88L285.34 388.28L279.34 388.28Z" fill="#0000ff"/>
<path d="M290.16 384.19L293.16 389.59L287.16 389.59Z" fill="#0000ff"/>
<path d="M297.99 386.40L300.99 391.80L294.99 391.80Z" fill="#0000ff"/>
<path d="M305.81 383.65L308.81 389.05L302.81 389.05Z" fill="#0000ff"/>
<path d="M313.64 382.88L316.64 388.28L310.64 388.28Z" fill="#0000ff"/>
<path d="M321.46 384.19L324.46 389.59L318.46 389.59Z" fill="#0000ff"/>
<path d="M329.29 379.50L332.29 384.90L326.29 384.90Z" fill="#0000ff"/>
<path d="M337.11 385.60L340.11 391.00L334.11 391.00Z" fill="#0000ff"/>
<path d="M344.94 388.25L347.94 393.65L341.94 393.65Z" fill="#0000ff"/>
<path d="M352.76 396.25L355.76 401.65L349.76 401.65Z" fill="#0000ff"/>
<path d="M360.59 388.01L363.59 393.41L357.59 393.41Z" fill="#0000ff"/>
<polyline points="59.33,441.17 74.97,420.19 90.62,408.06 106.28,398.73 121.92,395.26 133.66,391.11 141.49,388.31 149.31,391.43 157.14,388.31 164.96,384.92 172.79,384.39 180.61,386.21 188.44,392.91 196.26,386.91 204.09,383.12 211.91,384.84 219.74,381.14 227.56,387.37 235.39,384.47 243.21,394.58 251.04,393.24 258.86,399.00 266.69,403.37 274.51,407.87 282.34,410.06 290.16,421.90 297.99,426.03 305.81,426.64 313.64,426.64 321.46,435.60 329.29,446.65 337.11,456.86 344.94,463.46 352.76,473.88 360.59,487.39" fill="none" stroke="#ff0000" stroke-width="1.0" stroke-dasharray="2,0.9"/>
<path d="M133.66 389.71V392.51" stroke="#ff0000" stroke-width="0.9" fill="none"/>
<path d="M141.49 386.91V389.71" stroke="#ff0000" stroke-width="0.9" fill="none"/>
<path d="M149.31 390.03V392.83" stroke="#ff0000" stroke-width="0.9" fill="none"/>
<path d="M157.14 386.91V389.71" stroke="#ff0000" stroke-width="0.9" fill="none"/>
<path d="M164.96 383.52V386.32" stroke="#ff0000" stroke-width="0.9" fill="none"/>
<path d="M172.79 382.19V386.59" stroke="#ff0000" stroke-width="0.9" fill="none"/>
<path d="M180.61 384.01V388.41" stroke="#ff0000" stroke-width="0.9" fill="none"/>
<path d="M188.44 390.71V395.11" stroke="#ff0000" stroke-width="0.9" fill="none"/>
<path d="M196.26 384.71V389.11" stroke="#ff0000" stroke-width="0.9" fill="none"/>
<path d="M204.09 380.92V385.32" stroke="#ff0000" stroke-width="0.9" fill="none"/>
<path d="M211.91 381.64V388.04M210.61 381.64H213.21M210.61 388.04H213.21" stroke="#ff0000" stroke-width="0.9" fill="none"/>
<path d="M219.74 377.94V384.34M218.44 377.94H221.04M218.44 384.34H221.04" stroke="#ff0000" stroke-width="0.9" fill="none"/>
<path d="M227.56 384.17V390.57M226.26 384.17H228.86M226.26 390.57H228.86" stroke="#ff0000" stroke-width="0.9" fill="none"/>
<path d="M235.39 381.27V387.67M234.09 381.27H236.69M234.09 387.67H236.69" stroke="#ff0000" stroke-width="0.9" fill="none"/>
<path d="M243.21 391.38V397.78M241.91 391.38H244.51M241.91 397.78H244.51" stroke="#ff0000" stroke-width="0.9" fill="none"/>
<path d="M251.04 389.44V397.04M249.74 389.44H252.34M249.74 397.04H252.34" stroke="#ff0000" stroke-width="0.9" fill="none"/>
<path d="M258.86 395.20V402.80M257.56 395.20H260.16M257.56 402.80H260.16" stroke="#ff0000" stroke-width="0.9" fill="none"/>
<path d="M266.69 399.57V407.17M265.39 399.57H267.99M265.39 407.17H267.99" stroke="#ff0000" stroke-width="0.9" fill="none"/>
<path d="M274.51 404.07V411.67M273.21 404.07H275.81M273.21 411.67H275.81" stroke="#ff0000" stroke-width="0.9" fill="none"/>
<path d="M282.34 406.26V413.86M281.04 406.26H283.64M281.04 413.86H283.64" stroke="#ff0000" stroke-width="0.9" fill="none"/>
<path d="M290.16 418.10V425.70M288.86 418.10H291.46M288.86 425.70H291.46" stroke="#ff0000" stroke-width="0.9" fill="none"/>
<path d="M297.99 422.23V429.83M296.69 422.23H299.29M296.69 429.83H299.29" stroke="#ff0000" stroke-width="0.9" fill="none"/>
<path d="M305.81 422.84V430.44M304.51 422.84H307.11M304.51 430.44H307.11" stroke="#ff0000" stroke-width="0.9" fill="none"/>
<path d="M313.64 422.84V430.44M312.34 422.84H314.94M312.34 430.44H314.94" stroke="#ff0000" stroke-width="0.9" fill="none"/>
<path d="M321.46 431.80V439.40M320.16 431.80H322.76M320.16 439.40H322.76" stroke="#ff0000" stroke-width="0.9" fill="none"/>
<path d="M329.29 442.85V450.45M327.99 442.85H330.59M327.99 450.45H330.59" stroke="#ff0000" stroke-width="0.9" fill="none"/>
<path d="M337.11 453.06V460.66M335.81 453.06H338.41M335.81 460.66H338.41" stroke="#ff0000" stroke-width="0.9" fill="none"/>
<path d="M344.94 459.66V467.26M343.64 459.66H346.24M343.64 467.26H346.24" stroke="#ff0000" stroke-width="0.9" fill="none"/>
<path d="M352.76 470.08V477.68M351.46 470.08H354.06M351.46 477.68H354.06" stroke="#ff0000" stroke-width="0.9" fill="none"/>
<path d="M360.59 483.59V491.19M359.29 483.59H361.89M359.29 491.19H361.89" stroke="#ff0000" stroke-width="0.9" fill="none"/>
<path d="M59.33 437.87L61.73 441.17L59.33 444.47L56.93 441.17Z" fill="#ff0000"/>
<path d="M74.97 416.89L77.38 420.19L74.97 423.49L72.57 420.19Z" fill="#ff0000"/>
<path d="M90.62 404.76L93.03 408.06L90.62 411.36L88.22 408.06Z" fill="#ff0000"/>
<path d="M106.28 395.43L108.68 398.73L106.28 402.03L103.88 398.73Z" fill="#ff0000"/>
<path d="M121.92 391.96L124.33 395.26L121.92 398.56L119.52 395.26Z" fill="#ff0000"/>
<path d="M133.66 387.81L136.06 391.11L133.66 394.41L131.26 391.11Z" fill="#ff0000"/>
<path d="M141.49 385.01L143.89 388.31L141.49 391.61L139.09 388.31Z" fill="#ff0000"/>
<path d="M149.31 388.13L151.71 391.43L149.31 394.73L146.91 391.43Z" fill="#ff0000"/>
<path d="M157.14 385.01L159.54 388.31L157.14 391.61L154.74 388.31Z" fill="#ff0000"/>
<path d="M164.96 381.62L167.36 384.92L164.96 388.22L162.56 384.92Z" fill="#ff0000"/>
<path d="M172.79 381.09L175.19 384.39L172.79 387.69L170.39 384.39Z" fill="#ff0000"/>
<path d="M180.61 382.91L183.01 386.21L180.61 389.51L178.21 386.21Z" fill="#ff0000"/>
<path d="M188.44 389.61L190.84 392.91L188.44 396.21L186.04 392.91Z" fill="#ff0000"/>
<path d="M196.26 383.61L198.66 386.91L196.26 390.21L193.86 386.91Z" fill="#ff0000"/>
<path d="M204.09 379.82L206.49 383.12L204.09 386.42L201.69 383.12Z" fill="#ff0000"/>
<path d="M211.91 381.54L214.31 384.84L211.91 388.14L209.51 384.84Z" fill="#ff0000"/>
<path d="M219.74 377.84L222.14 381.14L219.74 384.44L217.34 381.14Z" fill="#ff0000"/>
<path d="M227.56 384.07L229.96 387.37L227.56 390.67L225.16 387.37Z" fill="#ff0000"/>
<path d="M235.39 381.17L237.79 384.47L235.39 387.77L232.99 384.47Z" fill="#ff0000"/>
<path d="M243.21 391.28L245.61 394.58L243.21 397.88L240.81 394.58Z" fill="#ff0000"/>
<path d="M251.04 389.94L253.44 393.24L251.04 396.54L248.64 393.24Z" fill="#ff0000"/>
<path d="M258.86 395.70L261.26 399.00L258.86 402.30L256.46 399.00Z" fill="#ff0000"/>
<path d="M266.69 400.07L269.09 403.37L266.69 406.67L264.29 403.37Z" fill="#ff0000"/>
<path d="M274.51 404.57L276.91 407.87L274.51 411.17L272.11 407.87Z" fill="#ff0000"/>
<path d="M282.34 406.76L284.74 410.06L282.34 413.36L279.94 410.06Z" fill="#ff0000"/>
<path d="M290.16 418.60L292.56 421.90L290.16 425.20L287.76 421.90Z" fill="#ff0000"/>
<path d="M297.99 422.73L300.39 426.03L297.99 429.33L295.59 426.03Z" fill="#ff0000"/>
<path d="M305.81 423.34L308.21 426.64L305.81 429.94L303.41 426.64Z" fill="#ff0000"/>
<path d="M313.64 423.34L316.04 426.64L313.64 429.94L311.24 426.64Z" fill="#ff0000"/>
<path d="M321.46 432.30L323.86 435.60L321.46 438.90L319.06 435.60Z" fill="#ff0000"/>
<path d="M329.29 443.35L331.69 446.65L329.29 449.95L326.89 446.65Z" fill="#ff0000"/>
<path d="M337.11 453.56L339.51 456.86L337.11 460.16L334.71 456.86Z" fill="#ff0000"/>
<path d="M344.94 460.16L347.34 463.46L344.94 466.76L342.54 463.46Z" fill="#ff0000"/>
<path d="M352.76 470.58L355.16 473.88L352.76 477.18L350.36 473.88Z" fill="#ff0000"/>
<path d="M360.59 484.09L362.99 487.39L360.59 490.69L358.19 487.39Z" fill="#ff0000"/>
</g>
<path d="M51.50 17.50L51.50 25.50" stroke="#000" stroke-width="1"/>
<path d="M51.50 317.50L51.50 309.50" stroke="#000" stroke-width="1"/>
<path d="M51.50 317.50L51.50 322.00" stroke="#000" stroke-width="1"/>
<path d="M51.50 477.50L51.50 473.00" stroke="#000" stroke-width="1"/>
<path d="M71.06 17.50L71.06 21.50" stroke="#000" stroke-width="1"/>
<path d="M71.06 317.50L71.06 313.50" stroke="#000" stroke-width="1"/>
<path d="M71.06 317.50L71.06 319.80" stroke="#000" stroke-width="1"/>
<path d="M71.06 477.50L71.06 475.20" stroke="#000" stroke-width="1"/>
<path d="M90.62 17.50L90.62 21.50" stroke="#000" stroke-width="1"/>
<path d="M90.62 317.50L90.62 313.50" stroke="#000" stroke-width="1"/>
<path d="M90.62 317.50L90.62 319.80" stroke="#000" stroke-width="1"/>
<path d="M90.62 477.50L90.62 475.20" stroke="#000" stroke-width="1"/>
<path d="M110.19 17.50L110.19 21.50" stroke="#000" stroke-width="1"/>
<path d="M110.19 317.50L110.19 313.50" stroke="#000" stroke-width="1"/>
<path d="M110.19 317.50L110.19 319.80" stroke="#000" stroke-width="1"/>
<path d="M110.19 477.50L110.19 475.20" stroke="#000" stroke-width="1"/>
<path d="M129.75 17.50L129.75 25.50" stroke="#000" stroke-width="1"/>
<path d="M129.75 317.50L129.75 309.50" stroke="#000" stroke-width="1"/>
<path d="M129.75 317.50L129.75 322.00" stroke="#000" stroke-width="1"/>
<path d="M129.75 477.50L129.75 473.00" stroke="#000" stroke-width="1"/>
<path d="M149.31 17.50L149.31 21.50" stroke="#000" stroke-width="1"/>
<path d="M149.31 317.50L149.31 313.50" stroke="#000" stroke-width="1"/>
<path d="M149.31 317.50L149.31 319.80" stroke="#000" stroke-width="1"/>
<path d="M149.31 477.50L149.31 475.20" stroke="#000" stroke-width="1"/>
<path d="M168.88 17.50L168.88 21.50" stroke="#000" stroke-width="1"/>
<path d="M168.88 317.50L168.88 313.50" stroke="#000" stroke-width="1"/>
<path d="M168.88 317.50L168.88 319.80" stroke="#000" stroke-width="1"/>
<path d="M168.88 477.50L168.88 475.20" stroke="#000" stroke-width="1"/>
<path d="M188.44 17.50L188.44 21.50" stroke="#000" stroke-width="1"/>
<path d="M188.44 317.50L188.44 313.50" stroke="#000" stroke-width="1"/>
<path d="M188.44 317.50L188.44 319.80" stroke="#000" stroke-width="1"/>
<path d="M188.44 477.50L188.44 475.20" stroke="#000" stroke-width="1"/>
<path d="M208.00 17.50L208.00 25.50" stroke="#000" stroke-width="1"/>
<path d="M208.00 317.50L208.00 309.50" stroke="#000" stroke-width="1"/>
<path d="M208.00 317.50L208.00 322.00" stroke="#000" stroke-width="1"/>
<path d="M208.00 477.50L208.00 473.00" stroke="#000" stroke-width="1"/>
<path d="M227.56 17.50L227.56 21.50" stroke="#000" stroke-width="1"/>
<path d="M227.56 317.50L227.56 313.50" stroke="#000" stroke-width="1"/>
<path d="M227.56 317.50L227.56 319.80" stroke="#000" stroke-width="1"/>
<path d="M227.56 477.50L227.56 475.20" stroke="#000" stroke-width="1"/>
<path d="M247.12 17.50L247.12 21.50" stroke="#000" stroke-width="1"/>
<path d="M247.12 317.50L247.12 313.50" stroke="#000" stroke-width="1"/>
<path d="M247.12 317.50L247.12 319.80" stroke="#000" stroke-width="1"/>
<path d="M247.12 477.50L247.12 475.20" stroke="#000" stroke-width="1"/>
<path d="M266.69 17.50L266.69 21.50" stroke="#000" stroke-width="1"/>
<path d="M266.69 317.50L266.69 313.50" stroke="#000" stroke-width="1"/>
<path d="M266.69 317.50L266.69 319.80" stroke="#000" stroke-width="1"/>
<path d="M266.69 477.50L266.69 475.20" stroke="#000" stroke-width="1"/>
<path d="M286.25 17.50L286.25 25.50" stroke="#000" stroke-width="1"/>
<path d="M286.25 317.50L286.25 309.50" stroke="#000" stroke-width="1"/>
<path d="M286.25 317.50L286.25 322.00" stroke="#000" stroke-width="1"/>
<path d="M286.25 477.50L286.25 473.00" stroke="#000" stroke-width="1"/>
<path d="M305.81 17.50L305.81 21.50" stroke="#000" stroke-width="1"/>
<path d="M305.81 317.50L305.81 313.50" stroke="#000" stroke-width="1"/>
<path d="M305.81 317.50L305.81 319.80" stroke="#000" stroke-width="1"/>
<path d="M305.81 477.50L305.81 475.20" stroke="#000" stroke-width="1"/>
<path d="M325.38 17.50L325.38 21.50" stroke="#000" stroke-width="1"/>
<path d="M325.38 317.50L325.38 313.50" stroke="#000" stroke-width="1"/>
<path d="M325.38 317.50L325.38 319.80" stroke="#000" stroke-width="1"/>
<path d="M325.38 477.50L325.38 475.20" stroke="#000" stroke-width="1"/>
<path d="M344.94 17.50L344.94 21.50" stroke="#000" stroke-width="1"/>
<path d="M344.94 317.50L344.94 313.50" stroke="#000" stroke-width="1"/>
<path d="M344.94 317.50L344.94 319.80" stroke="#000" stroke-width="1"/>
<path d="M344.94 477.50L344.94 475.20" stroke="#000" stroke-width="1"/>
<path d="M364.50 17.50L364.50 25.50" stroke="#000" stroke-width="1"/>
<path d="M364.50 317.50L364.50 309.50" stroke="#000" stroke-width="1"/>
<path d="M364.50 317.50L364.50 322.00" stroke="#000" stroke-width="1"/>
<path d="M364.50 477.50L364.50 473.00" stroke="#000" stroke-width="1"/>
<path d="M45.50 307.07L51.50 307.07" stroke="#000" stroke-width="1"/>
<path d="M371.00 307.07L365.00 307.07" stroke="#000" stroke-width="1"/>
<path d="M45.50 293.07L51.50 293.07" stroke="#000" stroke-width="1"/>
<path d="M371.00 293.07L365.00 293.07" stroke="#000" stroke-width="1"/>
<path d="M45.50 283.14L51.50 283.14" stroke="#000" stroke-width="1"/>
<path d="M371.00 283.14L365.00 283.14" stroke="#000" stroke-width="1"/>
<path d="M45.50 275.43L51.50 275.43" stroke="#000" stroke-width="1"/>
<path d="M371.00 275.43L365.00 275.43" stroke="#000" stroke-width="1"/>
<path d="M45.50 269.14L51.50 269.14" stroke="#000" stroke-width="1"/>
<path d="M371.00 269.14L365.00 269.14" stroke="#000" stroke-width="1"/>
<path d="M45.50 263.81L51.50 263.81" stroke="#000" stroke-width="1"/>
<path d="M371.00 263.81L365.00 263.81" stroke="#000" stroke-width="1"/>
<path d="M45.50 259.20L51.50 259.20" stroke="#000" stroke-width="1"/>
<path d="M371.00 259.20L365.00 259.20" stroke="#000" stroke-width="1"/>
<path d="M45.50 255.14L51.50 255.14" stroke="#000" stroke-width="1"/>
<path d="M371.00 255.14L365.00 255.14" stroke="#000" stroke-width="1"/>
<path d="M45.50 251.50L56.50 251.50" stroke="#000" stroke-width="1"/>
<path d="M371.00 251.50L360.00 251.50" stroke="#000" stroke-width="1"/>
<path d="M45.50 227.57L51.50 227.57" stroke="#000" stroke-width="1"/>
<path d="M371.00 227.57L365.00 227.57" stroke="#000" stroke-width="1"/>
<path d="M45.50 213.57L51.50 213.57" stroke="#000" stroke-width="1"/>
<path d="M371.00 213.57L365.00 213.57" stroke="#000" stroke-width="1"/>
<path d="M45.50 203.64L51.50 203.64" stroke="#000" stroke-width="1"/>
<path d="M371.00 203.64L365.00 203.64" stroke="#000" stroke-width="1"/>
<path d="M45.50 195.93L51.50 195.93" stroke="#000" stroke-width="1"/>
<path d="M371.00 195.93L365.00 195.93" stroke="#000" stroke-width="1"/>
<path d="M45.50 189.64L51.50 189.64" stroke="#000" stroke-width="1"/>
<path d="M371.00 189.64L365.00 189.64" stroke="#000" stroke-width="1"/>
<path d="M45.50 184.31L51.50 184.31" stroke="#000" stroke-width="1"/>
<path d="M371.00 184.31L365.00 184.31" stroke="#000" stroke-width="1"/>
<path d="M45.50 179.70L51.50 179.70" stroke="#000" stroke-width="1"/>
<path d="M371.00 179.70L365.00 179.70" stroke="#000" stroke-width="1"/>
<path d="M45.50 175.64L51.50 175.64" stroke="#000" stroke-width="1"/>
<path d="M371.00 175.64L365.00 175.64" stroke="#000" stroke-width="1"/>
<path d="M45.50 172.00L56.50 172.00" stroke="#000" stroke-width="1"/>
<path d="M371.00 172.00L360.00 172.00" stroke="#000" stroke-width="1"/>
<path d="M45.50 148.07L51.50 148.07" stroke="#000" stroke-width="1"/>
<path d="M371.00 148.07L365.00 148.07" stroke="#000" stroke-width="1"/>
<path d="M45.50 134.07L51.50 134.07" stroke="#000" stroke-width="1"/>
<path d="M371.00 134.07L365.00 134.07" stroke="#000" stroke-width="1"/>
<path d="M45.50 124.14L51.50 124.14" stroke="#000" stroke-width="1"/>
<path d="M371.00 124.14L365.00 124.14" stroke="#000" stroke-width="1"/>
<path d="M45.50 116.43L51.50 116.43" stroke="#000" stroke-width="1"/>
<path d="M371.00 116.43L365.00 116.43" stroke="#000" stroke-width="1"/>
<path d="M45.50 110.14L51.50 110.14" stroke="#000" stroke-width="1"/>
<path d="M371.00 110.14L365.00 110.14" stroke="#000" stroke-width="1"/>
<path d="M45.50 104.81L51.50 104.81" stroke="#000" stroke-width="1"/>
<path d="M371.00 104.81L365.00 104.81" stroke="#000" stroke-width="1"/>
<path d="M45.50 100.20L51.50 100.20" stroke="#000" stroke-width="1"/>
<path d="M371.00 100.20L365.00 100.20" stroke="#000" stroke-width="1"/>
<path d="M45.50 96.14L51.50 96.14" stroke="#000" stroke-width="1"/>
<path d="M371.00 96.14L365.00 96.14" stroke="#000" stroke-width="1"/>
<path d="M45.50 92.50L56.50 92.50" stroke="#000" stroke-width="1"/>
<path d="M371.00 92.50L360.00 92.50" stroke="#000" stroke-width="1"/>
<path d="M45.50 68.57L51.50 68.57" stroke="#000" stroke-width="1"/>
<path d="M371.00 68.57L365.00 68.57" stroke="#000" stroke-width="1"/>
<path d="M45.50 54.57L51.50 54.57" stroke="#000" stroke-width="1"/>
<path d="M371.00 54.57L365.00 54.57" stroke="#000" stroke-width="1"/>
<path d="M45.50 44.64L51.50 44.64" stroke="#000" stroke-width="1"/>
<path d="M371.00 44.64L365.00 44.64" stroke="#000" stroke-width="1"/>
<path d="M45.50 36.93L51.50 36.93" stroke="#000" stroke-width="1"/>
<path d="M371.00 36.93L365.00 36.93" stroke="#000" stroke-width="1"/>
<path d="M45.50 30.64L51.50 30.64" stroke="#000" stroke-width="1"/>
<path d="M371.00 30.64L365.00 30.64" stroke="#000" stroke-width="1"/>
<path d="M45.50 25.31L51.50 25.31" stroke="#000" stroke-width="1"/>
<path d="M371.00 25.31L365.00 25.31" stroke="#000" stroke-width="1"/>
<path d="M45.50 20.70L51.50 20.70" stroke="#000" stroke-width="1"/>
<path d="M371.00 20.70L365.00 20.70" stroke="#000" stroke-width="1"/>
<path d="M45.50 478.15L50.50 478.15" stroke="#000" stroke-width="1"/>
<path d="M371.00 478.15L366.00 478.15" stroke="#000" stroke-width="1"/>
<path d="M45.50 458.60L52.50 458.60" stroke="#000" stroke-width="1"/>
<path d="M371.00 458.60L364.00 458.60" stroke="#000" stroke-width="1"/>
<path d="M45.50 442.62L50.50 442.62" stroke="#000" stroke-width="1"/>
<path d="M371.00 442.62L366.00 442.62" stroke="#000" stroke-width="1"/>
<path d="M45.50 429.11L50.50 429.11" stroke="#000" stroke-width="1"/>
<path d="M371.00 429.11L366.00 429.11" stroke="#000" stroke-width="1"/>
<path d="M45.50 417.41L50.50 417.41" stroke="#000" stroke-width="1"/>
<path d="M371.00 417.41L366.00 417.41" stroke="#000" stroke-width="1"/>
<path d="M45.50 407.08L50.50 407.08" stroke="#000" stroke-width="1"/>
<path d="M371.00 407.08L366.00 407.08" stroke="#000" stroke-width="1"/>
<path d="M45.50 397.85L52.50 397.85" stroke="#000" stroke-width="1"/>
<path d="M371.00 397.85L364.00 397.85" stroke="#000" stroke-width="1"/>
<path d="M45.50 389.50L50.50 389.50" stroke="#000" stroke-width="1"/>
<path d="M371.00 389.50L366.00 389.50" stroke="#000" stroke-width="1"/>
<path d="M45.50 381.87L50.50 381.87" stroke="#000" stroke-width="1"/>
<path d="M371.00 381.87L366.00 381.87" stroke="#000" stroke-width="1"/>
<path d="M45.50 374.86L50.50 374.86" stroke="#000" stroke-width="1"/>
<path d="M371.00 374.86L366.00 374.86" stroke="#000" stroke-width="1"/>
<path d="M45.50 368.36L50.50 368.36" stroke="#000" stroke-width="1"/>
<path d="M371.00 368.36L366.00 368.36" stroke="#000" stroke-width="1"/>
<path d="M45.50 362.31L52.50 362.31" stroke="#000" stroke-width="1"/>
<path d="M371.00 362.31L364.00 362.31" stroke="#000" stroke-width="1"/>
<path d="M45.50 356.66L50.50 356.66" stroke="#000" stroke-width="1"/>
<path d="M371.00 356.66L366.00 356.66" stroke="#000" stroke-width="1"/>
<path d="M45.50 351.35L50.50 351.35" stroke="#000" stroke-width="1"/>
<path d="M371.00 351.35L366.00 351.35" stroke="#000" stroke-width="1"/>
<path d="M45.50 346.34L50.50 346.34" stroke="#000" stroke-width="1"/>
<path d="M371.00 346.34L366.00 346.34" stroke="#000" stroke-width="1"/>
<path d="M45.50 341.60L50.50 341.60" stroke="#000" stroke-width="1"/>
<path d="M371.00 341.60L366.00 341.60" stroke="#000" stroke-width="1"/>
<path d="M45.50 337.10L52.50 337.10" stroke="#000" stroke-width="1"/>
<path d="M371.00 337.10L364.00 337.10" stroke="#000" stroke-width="1"/>
<path d="M45.50 332.83L50.50 332.83" stroke="#000" stroke-width="1"/>
<path d="M371.00 332.83L366.00 332.83" stroke="#000" stroke-width="1"/>
<path d="M45.50 328.75L50.50 328.75" stroke="#000" stroke-width="1"/>
<path d="M371.00 328.75L366.00 328.75" stroke="#000" stroke-width="1"/>
<path d="M45.50 324.85L50.50 324.85" stroke="#000" stroke-width="1"/>
<path d="M371.00 324.85L366.00 324.85" stroke="#000" stroke-width="1"/>
<path d="M45.50 321.12L50.50 321.12" stroke="#000" stroke-width="1"/>
<path d="M371.00 321.12L366.00 321.12" stroke="#000" stroke-width="1"/>
<path d="M45.5 17.5H371.1V477.5H45.5Z M45.5 317.5H371.1" fill="none" stroke="#000" stroke-width="1.25"/>
<text x="50.5" y="13.7" font-family="Liberation Sans, sans-serif" font-size="12.2">7000 GeV pp</text>
<text x="366" y="13.7" font-family="Liberation Sans, sans-serif" font-size="12.2" text-anchor="end">Soft QCD</text>
<text x="55" y="41" font-family="Liberation Sans, sans-serif" font-size="12">Rapidity gap size in&#951; starting from&#951;<tspan x="244.6">=</tspan><tspan x="254.3">&#177;</tspan><tspan x="266">4.9,</tspan><tspan x="290.0">p</tspan><tspan x="296.3" font-size="8.6" dy="5.6">T</tspan><tspan x="305.2" dy="-5.6">&gt;</tspan><tspan x="314.8">600</tspan><tspan x="337.8">MeV</tspan></text>
<rect x="73.80" y="59.30" width="5.4" height="5.4" fill="#000"/>
<path d="M64 75.2H88" stroke="#a95a16" stroke-width="1" stroke-dasharray="3,2.5"/><circle cx="76.30" cy="75.20" r="2.75" fill="none" stroke="#a95a16" stroke-width="1.05"/>
<path d="M64 88H88" stroke="#3f9826" stroke-width="1" stroke-dasharray="3,2.5"/><rect x="73.80" y="85.30" width="5.4" height="5.4" fill="none" stroke="#3f9826" stroke-width="1.05"/>
<path d="M64 101.0H88" stroke="#0000ff" stroke-width="1.1"/><path d="M76.50 98.20L79.50 103.60L73.50 103.60Z" fill="#0000ff"/>
<path d="M64 114.0H76" stroke="#ff0000" stroke-width="1" stroke-dasharray="2,1"/><path d="M76 114.5H88" stroke="#ff0000" stroke-width="1" stroke-dasharray="1,1.5"/><path d="M76.50 110.90L78.90 114.20L76.50 117.50L74.10 114.20Z" fill="#ff0000"/>
<text x="94" y="64.9" font-family="Liberation Sans, sans-serif" font-size="9.4">ATLAS</text>
<text x="94" y="77.8" font-family="Liberation Sans, sans-serif" font-size="9.4">Herwig++ 2.7.1 default</text>
<text x="94" y="90.8" font-family="Liberation Sans, sans-serif" font-size="9.4">Herwig 7.2.1 default</text>
<text x="94" y="103.7" font-family="Liberation Sans, sans-serif" font-size="9.4">Pythia 8.315 default</text>
<text x="94" y="116.6" font-family="Liberation Sans, sans-serif" font-size="9.4">Sherpa 1.4.5 default</text>
<text x="40.5" y="255.5" font-family="Liberation Sans, sans-serif" font-size="11.5" text-anchor="end">1</text>
<text x="40.5" y="176" font-family="Liberation Sans, sans-serif" font-size="11.5" text-anchor="end">10</text>
<text x="35.0" y="97.2" font-family="Liberation Sans, sans-serif" font-size="11" text-anchor="end">10</text><text x="34.6" y="92.6" font-family="Liberation Sans, sans-serif" font-size="7.6">2</text>
<text x="38.7" y="341.1" font-family="Liberation Sans, sans-serif" font-size="11.5" text-anchor="end">2</text>
<text x="373.5" y="341.1" font-family="Liberation Sans, sans-serif" font-size="11.5">2</text>
<text x="38.7" y="401.9" font-family="Liberation Sans, sans-serif" font-size="11.5" text-anchor="end">1</text>
<text x="373.5" y="401.9" font-family="Liberation Sans, sans-serif" font-size="11.5">1</text>
<text x="38.7" y="462.6" font-family="Liberation Sans, sans-serif" font-size="11.5" text-anchor="end">0.5</text>
<text x="373.5" y="462.6" font-family="Liberation Sans, sans-serif" font-size="11.5">0.5</text>
<text x="51.50" y="489.5" font-family="Liberation Sans, sans-serif" font-size="11.5" text-anchor="middle">0</text>
<text x="129.75" y="489.5" font-family="Liberation Sans, sans-serif" font-size="11.5" text-anchor="middle">2</text>
<text x="208.00" y="489.5" font-family="Liberation Sans, sans-serif" font-size="11.5" text-anchor="middle">4</text>
<text x="286.25" y="489.5" font-family="Liberation Sans, sans-serif" font-size="11.5" text-anchor="middle">6</text>
<text x="364.50" y="489.5" font-family="Liberation Sans, sans-serif" font-size="11.5" text-anchor="middle">8</text>
<text x="350.5" y="505" font-family="Liberation Sans, sans-serif" font-size="11" letter-spacing="0.5">&#916;&#951;</text><text x="366.3" y="499" font-family="Liberation Sans, sans-serif" font-size="7.8">F</text>
<text transform="translate(17.4,92.3) rotate(-90)" font-family="Liberation Sans, sans-serif" font-size="11.85">d&#963; / d&#916;&#951;<tspan font-size="8" dy="-5">F</tspan><tspan dy="5"> [mb]</tspan></text>
<text transform="translate(18.4,428.8) rotate(-90)" font-family="Liberation Sans, sans-serif" font-size="9.3">Ratio to ATLAS</text>
<text transform="translate(380.4,125.6) rotate(-90)" font-family="Liberation Sans, sans-serif" font-size="9.4" fill="#666">Rivet 4.1.0, &#8805; 100k events</text>
<text transform="translate(380.8,314.4) rotate(-90)" font-family="Liberation Sans, sans-serif" font-size="9.4" fill="#666">mcplots.cern.ch [arXiv:2401.10621]</text>
<text x="163" y="302" font-family="Liberation Sans, sans-serif" font-size="8.05" fill="#a0a0a0">(ATLAS_2012_I1084540)</text>
</svg>
</body></html>
